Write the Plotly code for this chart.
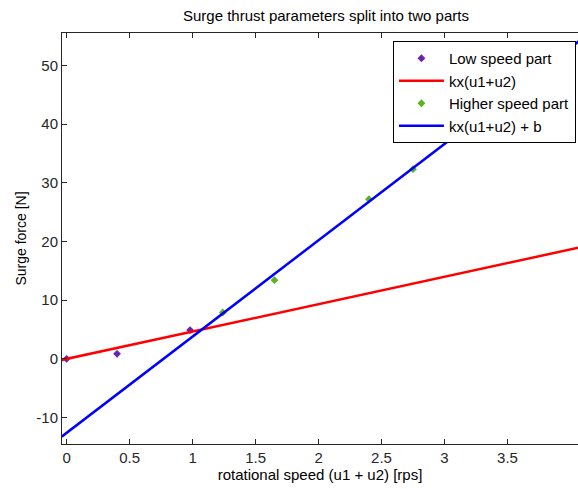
import numpy as np
import plotly.graph_objects as go

# Measured thrust samples
low_speed_u = [0.0, 0.40, 0.98]
low_speed_force = [0.0, 0.85, 4.9]
high_speed_u = [1.24, 1.65, 2.40, 2.75]
high_speed_force = [7.9, 13.4, 27.2, 32.3]

# Fitted line parameters
k_low = 4.66
k_high = 16.4
b_high = -12.6
fit_u = [-0.04, 4.2]

x_ticks = [0, 0.5, 1, 1.5, 2, 2.5, 3, 3.5]
x_tick_text = ["0", "0.5", "1", "1.5", "2", "2.5", "3", "3.5"]
y_ticks = [-10, 0, 10, 20, 30, 40, 50]
y_tick_text = ["-10", "0", "10", "20", "30", "40", "50"]

fit_u_arr = np.array(fit_u)
red_fit = k_low * fit_u_arr
blue_fit = k_high * fit_u_arr + b_high

FONT = "Liberation Sans, Arial, sans-serif"
AX = "#262626"

fig = go.Figure()
fig.add_trace(go.Scatter(
    x=low_speed_u, y=low_speed_force, mode="markers", name="Low speed part",
    marker=dict(symbol="diamond", size=6, color="#6a22b0", line=dict(width=0)),
))
fig.add_trace(go.Scatter(
    x=fit_u_arr, y=red_fit, mode="lines", name="kx(u1+u2)",
    line=dict(color="#ff0000", width=2.5),
))
fig.add_trace(go.Scatter(
    x=high_speed_u, y=high_speed_force, mode="markers", name="Higher speed part",
    marker=dict(symbol="diamond", size=6, color="#5cb31f", line=dict(width=0)),
))
fig.add_trace(go.Scatter(
    x=fit_u_arr, y=blue_fit, mode="lines", name="kx(u1+u2) + b",
    line=dict(color="#0000ff", width=2.5),
))

fig.update_layout(
    width=578, height=489,
    margin=dict(l=62, r=0, t=33, b=45),
    paper_bgcolor="white", plot_bgcolor="white",
    font=dict(family=FONT, size=15, color=AX),
    title=dict(text="Surge thrust parameters split into two parts",
               x=0.564, xref="container", xanchor="center",
               y=1 - 16 / 489, yref="container", yanchor="middle",
               font=dict(family=FONT, size=15, color="#000000")),
    showlegend=True,
    legend=dict(x=0.996, y=0.9805, xanchor="right", yanchor="top",
                bgcolor="white", bordercolor="#000000", borderwidth=1,
                font=dict(family=FONT, size=15, color="#000000"),
                itemwidth=45, tracegroupgap=0),
    xaxis=dict(range=[-0.037, 4.06], tickvals=x_ticks, ticktext=x_tick_text,
               ticks="inside", ticklen=5, tickcolor=AX, showline=True,
               linecolor=AX, linewidth=1, mirror="ticks", showgrid=False,
               zeroline=False, automargin=False,
               tickfont=dict(family=FONT, size=15, color=AX),
               title=dict(text="rotational speed (u1 + u2) [rps]", standoff=2,
                          font=dict(family=FONT, size=15, color="#000000"))),
    yaxis=dict(range=[-14.5, 55.5], tickvals=y_ticks, ticktext=y_tick_text,
               ticks="inside", ticklen=5, tickcolor=AX, showline=True,
               linecolor=AX, linewidth=1, mirror=False, showgrid=False,
               zeroline=False, automargin=False,
               tickfont=dict(family=FONT, size=15, color=AX),
               title=dict(text="Surge force [N]", standoff=6,
                          font=dict(family=FONT, size=14, color="#000000"))),
)

fig.write_html("out.html")
